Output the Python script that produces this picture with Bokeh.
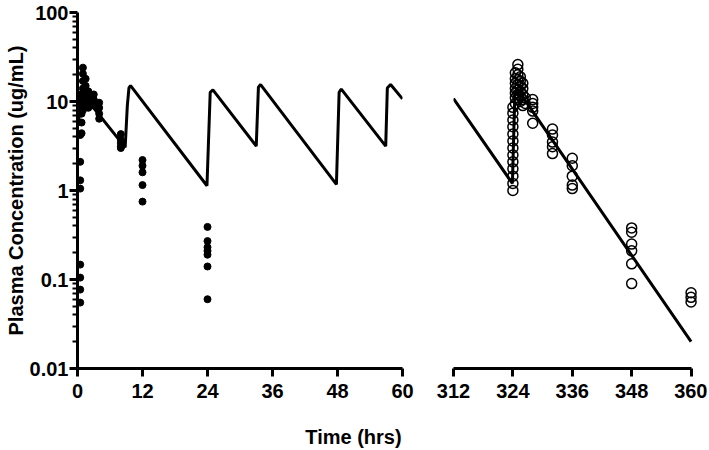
from bokeh.plotting import figure
from bokeh.layouts import row, column
from bokeh.models import Range1d, FixedTicker, Div
from bokeh.embed import file_html
from bokeh.resources import INLINE

# ---------------- data ----------------
y_ticks = [0.01, 0.1, 1, 10, 100]
y_tick_labels = ["0.01", "0.1", "1", "10", "100"]
x_ticks_left = [0, 12, 24, 36, 48, 60]
x_ticks_right = [312, 324, 336, 348, 360]
x_title = "Time (hrs)"
y_title = "Plasma Concentration (ug/mL)"

# simulated concentration line, first 60 h
sim_left_t = [0.25, 0.5, 1.0, 8.8, 9.2, 9.5, 9.8, 23.9, 24.5, 25.0, 33.0, 33.4, 33.8,
              47.8, 48.3, 48.7, 56.9, 57.2, 57.8, 60.0]
sim_left_c = [6.0, 10.0, 12.0, 3.05, 9.0, 14.2, 15.1, 1.13, 12.7, 13.5, 3.15, 14.5, 15.5,
              1.17, 12.7, 13.8, 3.15, 14.2, 15.5, 10.7]

# simulated concentration line, 312-360 h
sim_right_t = [312.0, 323.9, 324.4, 325.0, 360.0]
sim_right_c = [10.8, 1.2, 12.5, 13.5, 0.02]

# observed concentrations, first 60 h (filled dots)
obs_left_t = [0.5] * 8 + [0.75] * 6 + [1.0] * 7 + [1.5] * 5 + [2.0] * 4 + [3.0] * 3 \
    + [4.0] * 4 + [8.0] * 5 + [12.0] * 5 + [24.0] * 7
obs_left_c = [0.055, 0.077, 0.105, 0.147, 1.05, 1.3, 2.1, 4.2,
              4.4, 5.8, 7.3, 9.0, 10.5, 12.0,
              8.0, 10.0, 12.0, 14.0, 17.0, 20.5, 24.0,
              9.0, 11.0, 13.0, 15.0, 18.0,
              8.5, 10.0, 11.5, 13.0,
              9.0, 10.5, 12.0,
              6.4, 7.3, 8.5, 9.7,
              3.0, 3.1, 3.4, 3.7, 4.3,
              0.75, 1.15, 1.6, 1.9, 2.2,
              0.06, 0.14, 0.19, 0.21, 0.23, 0.27, 0.39]

# observed concentrations, 312-360 h (open circles)
obs_right_t = [324.0] * 13 + [324.5] * 7 + [325.0] * 8 + [325.5] * 6 + [326.0] * 5 \
    + [326.5] * 2 + [328.0] * 5 + [332.0] * 5 + [336.0] * 5 + [348.0] * 6 + [360.0] * 3
obs_right_c = [1.0, 1.2, 1.45, 1.75, 2.1, 2.5, 3.0, 3.6, 4.3, 5.2, 6.2, 7.4, 8.6,
               9.5, 11.0, 12.5, 14.0, 16.0, 18.0, 21.0,
               10.5, 12.0, 13.5, 15.5, 17.5, 20.0, 23.0, 26.0,
               10.0, 11.5, 13.0, 15.0, 17.0, 19.0,
               9.0, 10.5, 12.0, 14.0, 16.0,
               9.5, 11.0,
               5.7, 7.8, 8.6, 9.5, 10.5,
               2.6, 3.1, 3.5, 4.2, 4.9,
               1.05, 1.15, 1.45, 1.9, 2.3,
               0.09, 0.15, 0.21, 0.25, 0.34, 0.38,
               0.056, 0.063, 0.071]

# ---------------- styling ----------------
FONT = "Liberation Sans"
H = 426


def style_axis(ax, standoff):
    ax.axis_line_width = 3
    ax.axis_line_color = "black"
    ax.major_tick_line_width = 3
    ax.major_tick_line_color = "black"
    ax.major_tick_out = 8
    ax.major_tick_in = 0
    ax.minor_tick_line_width = 2
    ax.minor_tick_line_color = "black"
    ax.minor_tick_out = 5
    ax.minor_tick_in = 0
    ax.major_label_text_font = FONT
    ax.major_label_text_font_style = "bold"
    ax.major_label_text_font_size = "20px"
    ax.major_label_text_color = "black"
    ax.major_label_standoff = standoff


def base(width, xr, bl, br, **kw):
    p = figure(width=width, height=H, x_range=xr, y_range=Range1d(0.01, 100),
               y_axis_type="log", output_backend="svg", toolbar_location=None,
               min_border_left=bl, min_border_right=br, min_border_top=12,
               min_border_bottom=58, **kw)
    p.outline_line_color = None
    p.grid.visible = False
    p.background_fill_color = "white"
    p.border_fill_color = "white"
    return p


# left panel
p1 = base(427, Range1d(0, 60), 77, 25)
minor = [m * 10 ** e for e in range(-2, 2) for m in range(2, 10)]
p1.yaxis.ticker = FixedTicker(ticks=y_ticks, minor_ticks=minor)
p1.yaxis.major_label_overrides = {t: l for t, l in zip(y_ticks, y_tick_labels)}
p1.xaxis.ticker = FixedTicker(ticks=x_ticks_left)
for ax in p1.xaxis:
    style_axis(ax, 7)
for ax in p1.yaxis:
    style_axis(ax, 1)
p1.xaxis.minor_tick_out = 0
p1.yaxis.axis_label = y_title
p1.yaxis.axis_label_text_font = FONT
p1.yaxis.axis_label_text_font_style = "bold"
p1.yaxis.axis_label_text_font_size = "20px"
p1.yaxis.axis_label_text_color = "black"
p1.yaxis.axis_label_standoff = 0

p1.line(sim_left_t, sim_left_c, line_width=3, line_color="black")
p1.scatter(obs_left_t, obs_left_c, size=7, fill_color="black", line_color="black")

# right panel
p2 = base(280, Range1d(312, 361.3), 26, 10, y_axis_location=None)
p2.xaxis.ticker = FixedTicker(ticks=x_ticks_right)
p2.xaxis.bounds = (312, 360)
for ax in p2.xaxis:
    style_axis(ax, 7)
p2.xaxis.minor_tick_out = 0

p2.line(sim_right_t, sim_right_c, line_width=3, line_color="black")
p2.scatter(obs_right_t, obs_right_c, size=10, fill_color=None, line_color="black",
           line_width=1.5)

xlabel = Div(text=x_title, width=707, height=22, margin=0,
             styles={"text-align": "center", "font-family": FONT, "font-weight": "bold",
                     "font-size": "20px", "color": "black", "line-height": "22px"})

layout = column(row(p1, p2), xlabel)
open("out.html", "w").write(file_html(layout, INLINE))
